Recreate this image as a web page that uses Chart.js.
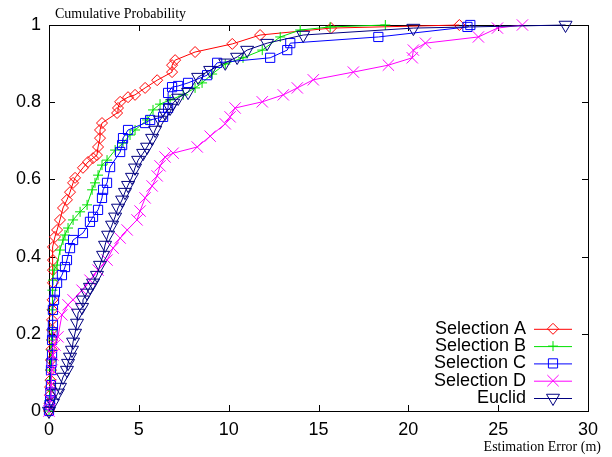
<!DOCTYPE html>
<html>
<head>
<meta charset="utf-8">
<script src="https://cdn.jsdelivr.net/npm/chart.js@4.4.1/dist/chart.umd.min.js"></script>
<style>
html, body { margin: 0; padding: 0; background: #fff; }
</style>
</head>
<body>
<canvas id="myChart" width="612" height="457"></canvas>
<script>
// estimation error (m) and cumulative probability
const errA = [0,0.03,0.06,0.06,0.08,0.11,0.11,0.14,0.17,0.17,0.17,0.19,0.20,0.22,0.22,0.22,0.22,0.33,0.45,0.61,0.78,1.00,1.17,1.34,1.45,1.89,2.17,2.45,2.67,2.73,2.84,2.84,2.95,3.79,3.84,3.96,4.40,4.79,5.35,6.02,6.85,6.85,7.02,8.13,10.2,11.75,15.7,22.84];
const cdfA = [0,0.02,0.041,0.062,0.080,0.106,0.132,0.16,0.184,0.21,0.236,0.262,0.288,0.332,0.365,0.391,0.425,0.451,0.469,0.495,0.526,0.547,0.567,0.591,0.604,0.630,0.645,0.655,0.663,0.684,0.707,0.728,0.746,0.772,0.785,0.801,0.813,0.819,0.837,0.857,0.878,0.896,0.909,0.930,0.951,0.974,0.992,1.0];

const errB = [0,0.03,0.06,0.06,0.08,0.11,0.11,0.14,0.17,0.17,0.19,0.22,0.28,0.45,0.61,0.78,0.89,1.06,1.34,1.73,2.12,2.40,2.56,2.73,2.95,3.23,3.68,4.12,4.51,4.79,5.46,5.79,6.18,6.74,7.47,8.13,8.52,9.08,9.81,10.8,11.87,12.87,13.98,15.65,18.72];
const cdfB = [0,0.027,0.054,0.08,0.106,0.132,0.158,0.184,0.210,0.262,0.313,0.339,0.365,0.378,0.417,0.443,0.456,0.474,0.495,0.516,0.534,0.573,0.591,0.611,0.637,0.650,0.676,0.694,0.715,0.728,0.754,0.780,0.795,0.806,0.819,0.837,0.850,0.873,0.899,0.915,0.935,0.969,0.987,0.995,1.0];

const errC = [0,0.03,0.06,0.08,0.11,0.11,0.14,0.17,0.17,0.2,0.22,0.22,0.28,0.33,0.45,0.72,0.89,1.00,1.17,1.34,1.89,2.28,2.45,2.73,2.95,3.01,3.23,3.40,3.96,4.07,4.12,4.40,5.35,5.63,6.35,6.63,6.63,6.85,7.19,7.74,8.80,9.36,12.31,13.26,13.43,18.33,23.29,23.45];
const cdfC = [0,0.015,0.028,0.048,0.067,0.106,0.125,0.145,0.184,0.204,0.223,0.262,0.288,0.308,0.332,0.352,0.373,0.391,0.422,0.443,0.461,0.490,0.503,0.521,0.552,0.573,0.591,0.632,0.671,0.689,0.707,0.728,0.746,0.754,0.762,0.785,0.824,0.839,0.842,0.850,0.870,0.902,0.915,0.935,0.953,0.969,0.995,1.0];

const errD = [0,0.06,0.11,0.17,0.22,0.33,0.50,0.72,1.06,1.34,1.84,2.28,2.73,3.23,3.57,3.96,4.35,4.90,5.07,5.35,5.74,6.02,6.18,6.46,6.91,8.25,8.97,9.81,10.08,10.36,11.87,13.04,13.82,14.71,16.94,18.89,20.22,20.28,20.95,23.90,24.96,26.35];
const cdfD = [0,0.028,0.067,0.106,0.145,0.171,0.192,0.249,0.275,0.288,0.313,0.339,0.365,0.391,0.422,0.448,0.469,0.495,0.518,0.552,0.583,0.609,0.635,0.658,0.668,0.684,0.712,0.744,0.762,0.785,0.801,0.819,0.837,0.858,0.878,0.896,0.915,0.935,0.953,0.969,0.992,1.0];

const errE = [0,0.22,0.50,0.61,0.78,1.00,1.06,1.17,1.28,1.34,1.45,1.56,1.62,1.84,1.89,2.12,2.28,2.45,2.67,2.84,3.01,3.12,3.29,3.51,3.68,3.84,4.07,4.23,4.40,4.62,4.79,4.96,5.24,5.46,5.74,5.91,6.18,6.46,6.74,6.91,7.19,7.74,8.30,8.97,9.81,10.47,11.03,12.14,14.15,20.28,28.75];
const cdfE = [0,0.021,0.047,0.062,0.088,0.106,0.124,0.140,0.158,0.179,0.202,0.228,0.254,0.269,0.288,0.306,0.321,0.332,0.352,0.378,0.404,0.430,0.456,0.482,0.503,0.526,0.547,0.567,0.585,0.606,0.630,0.650,0.668,0.684,0.707,0.728,0.754,0.772,0.785,0.798,0.811,0.826,0.865,0.883,0.902,0.917,0.935,0.953,0.974,0.992,1.0];

const seriesNames = ["Selection A", "Selection B", "Selection C", "Selection D", "Euclid"];
const xTicks = [0, 5, 10, 15, 20, 25, 30];
const yTicks = [0, 0.2, 0.4, 0.6, 0.8, 1];

// pair up x and y arrays into points for the scatter/line chart
function pts(xs, ys) {
    return xs.map((v, i) => ({ x: v, y: ys[i] }));
}

function series(label, xs, ys, color, style, radius, rotation, order) {
    return {
        label: label,
        data: pts(xs, ys),
        showLine: true,
        borderColor: color,
        backgroundColor: "rgba(0,0,0,0)",
        borderWidth: 1,
        pointStyle: style,
        pointRadius: radius,
        pointRotation: rotation,
        pointBorderColor: color,
        pointBackgroundColor: "rgba(0,0,0,0)",
        pointBorderWidth: 1,
        tension: 0,
        clip: false,
        order: order
    };
}

const datasets = [
    series(seriesNames[0], errA, cdfA, "#ff0000", "rectRot", 5.5, 0, 4),
    series(seriesNames[1], errB, cdfB, "#00e000", "cross", 5, 0, 3),
    series(seriesNames[2], errC, cdfC, "#0000ff", "rect", 6.5, 0, 2),
    series(seriesNames[3], errD, cdfD, "#ff00ff", "crossRot", 8, 0, 1),
    series(seriesNames[4], errE, cdfE, "#000080", "triangle", 7.5, 180, 0)
];

// gnuplot style box with inward ticks on all four sides
const frame = {
    id: "frame",
    beforeDatasetsDraw(chart) {
        const { ctx, chartArea: a, scales } = chart;
        ctx.save();
        ctx.strokeStyle = "#000";
        ctx.lineWidth = 1;
        ctx.strokeRect(a.left + 0.5, a.top + 0.5, a.right - a.left, a.bottom - a.top);
        ctx.beginPath();
        xTicks.forEach(v => {
            const px = Math.round(scales.x.getPixelForValue(v)) + 0.5;
            ctx.moveTo(px, a.bottom); ctx.lineTo(px, a.bottom - 6);
            ctx.moveTo(px, a.top); ctx.lineTo(px, a.top + 6);
        });
        yTicks.forEach(v => {
            const py = Math.round(scales.y.getPixelForValue(v)) + 0.5;
            ctx.moveTo(a.left, py); ctx.lineTo(a.left + 6, py);
            ctx.moveTo(a.right, py); ctx.lineTo(a.right - 6, py);
        });
        ctx.stroke();
        ctx.restore();
    },
    afterDraw(chart) {
        const { ctx, chartArea: a } = chart;
        ctx.save();
        // axis labels
        ctx.fillStyle = "#000";
        ctx.font = "14px 'Liberation Serif'";
        ctx.textBaseline = "middle";
        ctx.textAlign = "left";
        ctx.fillText("Cumulative Probability", a.left + 6, a.top - 11);
        ctx.textAlign = "right";
        ctx.fillText("Estimation Error (m)", a.right + 13, a.bottom + 36);

        // legend, bottom right inside the box
        ctx.font = "18px 'Liberation Sans'";
        chart.data.datasets.forEach((ds, i) => {
            const yy = a.bottom - 13 - (seriesNames.length - 1 - i) * 17.3;
            ctx.fillStyle = "#000";
            ctx.textAlign = "right";
            ctx.fillText(ds.label, a.right - 62, yy);
            ctx.strokeStyle = ds.borderColor;
            ctx.lineWidth = 1;
            ctx.beginPath();
            ctx.moveTo(a.right - 54, yy + 0.5);
            ctx.lineTo(a.right - 16, yy + 0.5);
            ctx.stroke();
            ctx.fillStyle = "rgba(0,0,0,0)";
            Chart.helpers.drawPoint(ctx, {
                pointStyle: ds.pointStyle,
                rotation: ds.pointRotation,
                radius: ds.pointRadius,
                borderWidth: 1
            }, a.right - 35, yy);
        });
        ctx.restore();
    }
};

const config = {
    type: "scatter",
    data: { datasets: datasets },
    options: {
        responsive: false,
        animation: false,
        layout: { padding: { top: 25, right: 24, left: 0, bottom: 0 } },
        plugins: {
            legend: { display: false },
            tooltip: { enabled: false }
        },
        scales: {
            x: {
                type: "linear",
                min: 0,
                max: 30,
                grid: { display: false, drawTicks: false },
                border: { display: false },
                ticks: {
                    stepSize: 5,
                    padding: 8,
                    color: "#000",
                    font: { family: "Liberation Sans", size: 18 }
                },
                afterFit(scale) { scale.height = 46; }
            },
            y: {
                type: "linear",
                min: 0,
                max: 1,
                grid: { display: false, drawTicks: false },
                border: { display: false },
                ticks: {
                    stepSize: 0.2,
                    padding: 8,
                    color: "#000",
                    font: { family: "Liberation Sans", size: 18 },
                    // gnuplot prints 1 and 0 without decimals
                    callback: function (value) {
                        return String(Number(value.toFixed(1)));
                    }
                },
                afterFit(scale) { scale.width = 49; }
            }
        }
    },
    plugins: [frame]
};

const ctx = document.getElementById("myChart").getContext("2d");
const myChart = new Chart(ctx, config);
</script>
</body>
</html>
